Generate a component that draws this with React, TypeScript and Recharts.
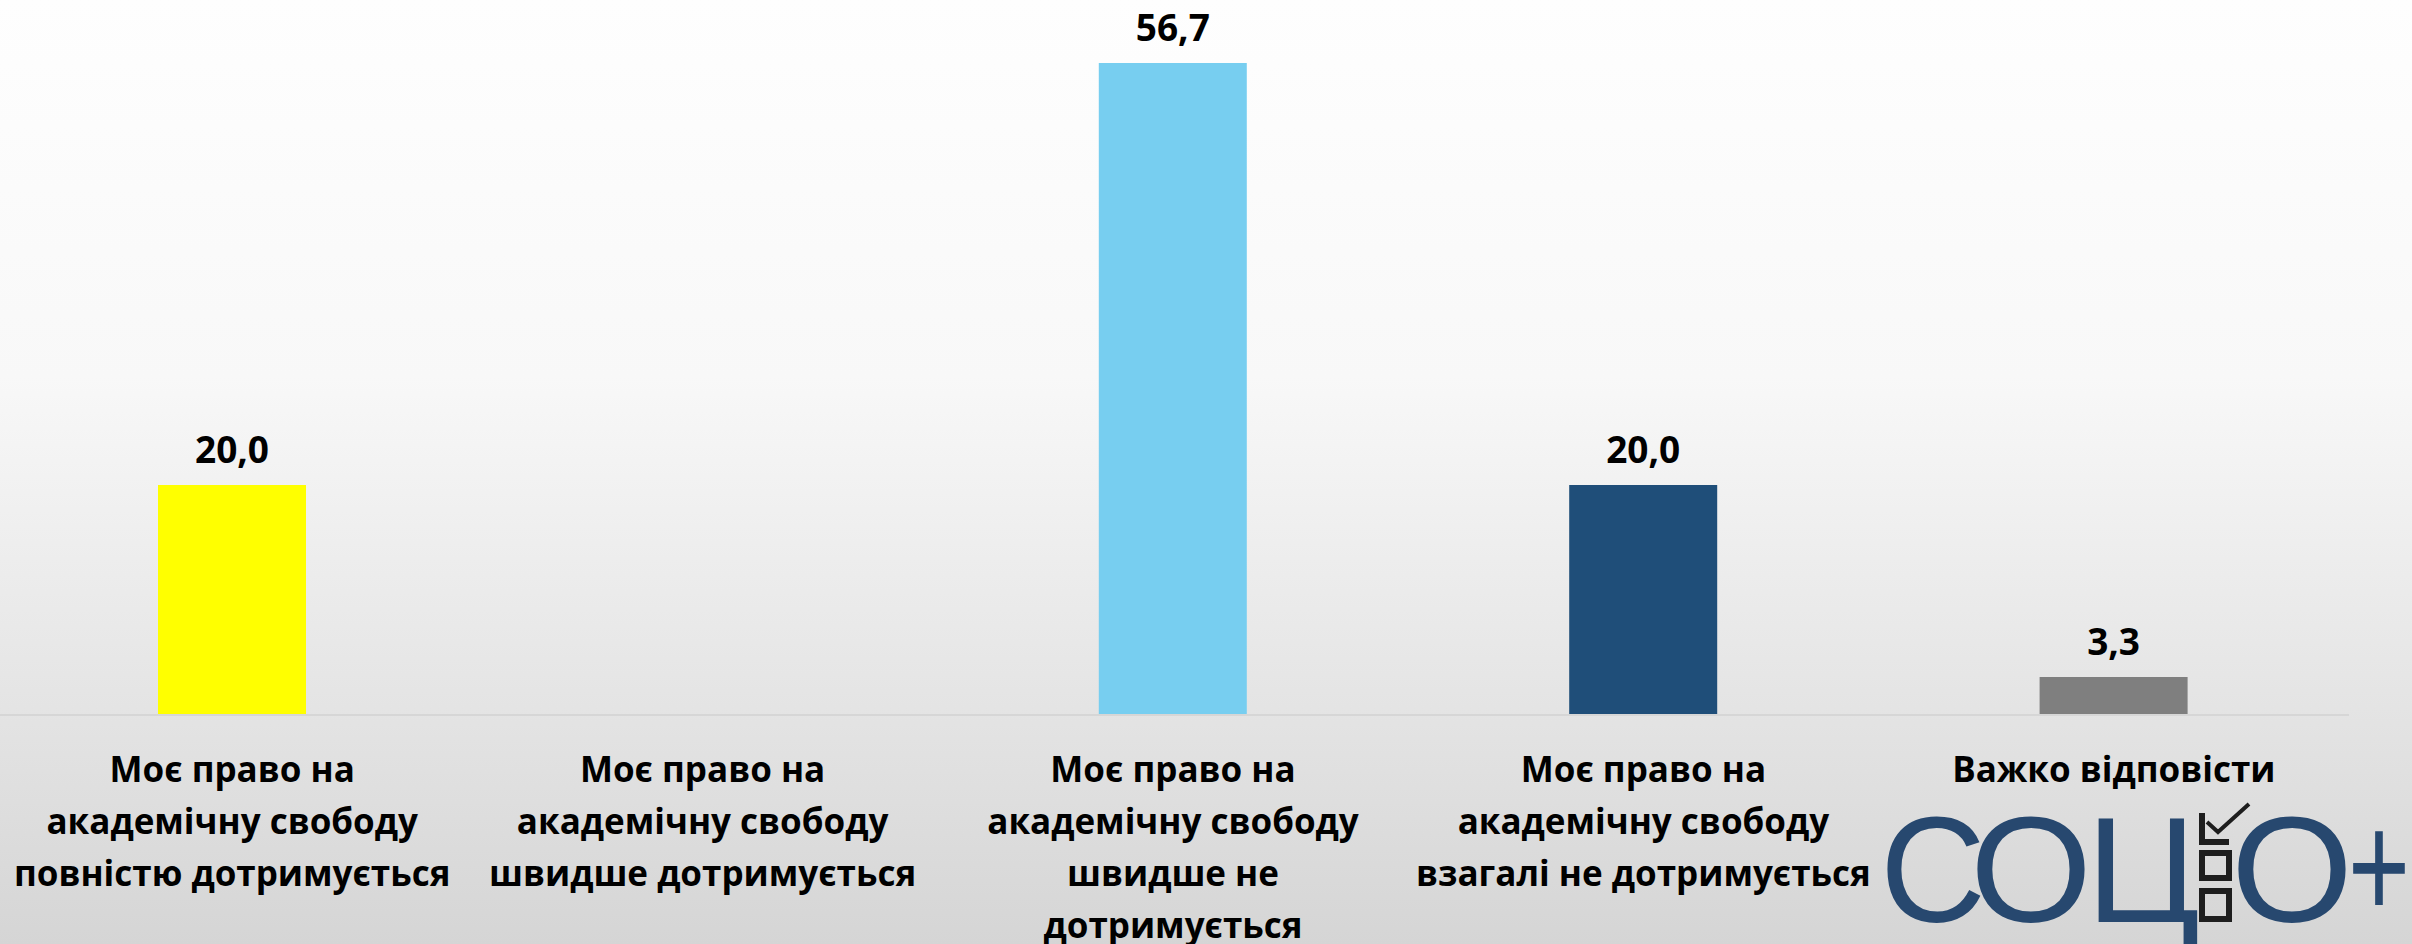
import React from 'react';
import { BarChart, Bar, XAxis, YAxis, Cell, LabelList } from 'recharts';

const categories = [
  'Моє право на\nакадемічну свободу\nповністю дотримується',
  'Моє право на\nакадемічну свободу\nшвидше дотримується',
  'Моє право на\nакадемічну свободу\nшвидше не\nдотримується',
  'Моє право на\nакадемічну свободу\nвзагалі не дотримується',
  'Важко відповісти',
];
const values: (number | null)[] = [20.0, null, 56.7, 20.0, 3.3];
const barColors = ['#FFFF00', '#FFC000', '#77CEF0', '#1F4E79', '#7F7F7F'];

const data = categories.map((name, i) => ({ name, value: values[i] }));

const FONT = '"Open Sans", sans-serif';

const CategoryTick = ({ x, y, payload }: any) => {
  const lines = String(payload.value).split('\n');
  return (
    <g>
      {lines.map((line, i) => (
        <text
          key={i}
          x={x}
          y={y + 67 + i * 52}
          textAnchor="middle"
          fontFamily={FONT}
          fontWeight="bold"
          fontSize={35}
          fill="#000"
        >
          {line}
        </text>
      ))}
    </g>
  );
};

const ValueLabel = ({ x, y, width, value }: any) => {
  if (value == null) return null;
  return (
    <text
      x={x + width / 2}
      y={y - 22}
      textAnchor="middle"
      fontFamily={FONT}
      fontWeight="bold"
      fontSize={37}
      fill="#000"
    >
      {Number(value).toFixed(1).replace('.', ',')}
    </text>
  );
};

// logo "СОЦІО+" in the bottom right corner
const Logo = () => {
  const blue = '#27486F';
  const dark = '#1E1E1E';
  const fs = 151;
  const base = 922;
  return (
    <svg
      width={2412}
      height={944}
      style={{ position: 'absolute', left: 0, top: 0, pointerEvents: 'none' }}
    >
      <g fontFamily='"Liberation Sans", sans-serif' fontSize={fs} fill={blue}>
        <text x={1880} y={base} textLength={106} lengthAdjust="spacingAndGlyphs">С</text>
        <text x={1970} y={base} textLength={122} lengthAdjust="spacingAndGlyphs">О</text>
        <text x={2086} y={base} textLength={114} lengthAdjust="spacingAndGlyphs">Ц</text>
        <text x={2231} y={base} textLength={122} lengthAdjust="spacingAndGlyphs">О</text>
        <text x={2348} y={base - 4} textLength={62} lengthAdjust="spacingAndGlyphs">+</text>
      </g>
      <g fill="none" stroke={dark} strokeWidth={6}>
        <path d="M2202 813 L2202 842 L2229 842" />
        <rect x={2202} y={853} width={27} height={25} />
        <rect x={2202} y={891} width={27} height={28} />
        <path d="M2207 822 L2218 832 L2249 804" strokeWidth={4} />
      </g>
    </svg>
  );
};

export default function App() {
  return (
    <div
      style={{
        position: 'absolute',
        left: 0,
        top: 0,
        width: 2412,
        height: 944,
        overflow: 'hidden',
        background: 'linear-gradient(to bottom, #fefefe 0%, #f8f8f8 40%, #e4e4e4 75%, #d5d5d5 100%)',
      }}
    >
      <div style={{ position: 'absolute', left: -3, top: 0 }}>
        <BarChart
          width={2412}
          height={944}
          data={data}
          margin={{ top: 25, right: 60, left: 0, bottom: 0 }}
          barSize={148}
        >
          <XAxis
            dataKey="name"
            height={229}
            interval={0}
            tickLine={false}
            tickSize={0}
            tickMargin={0}
            axisLine={{ stroke: '#d6d6d6', strokeWidth: 2 }}
            tick={<CategoryTick />}
          />
          <YAxis hide domain={[0, 60]} />
          <Bar dataKey="value" isAnimationActive={false}>
            {data.map((_, i) => (
              <Cell key={i} fill={barColors[i]} />
            ))}
            <LabelList dataKey="value" content={<ValueLabel />} />
          </Bar>
        </BarChart>
      </div>
      <Logo />
    </div>
  );
}
